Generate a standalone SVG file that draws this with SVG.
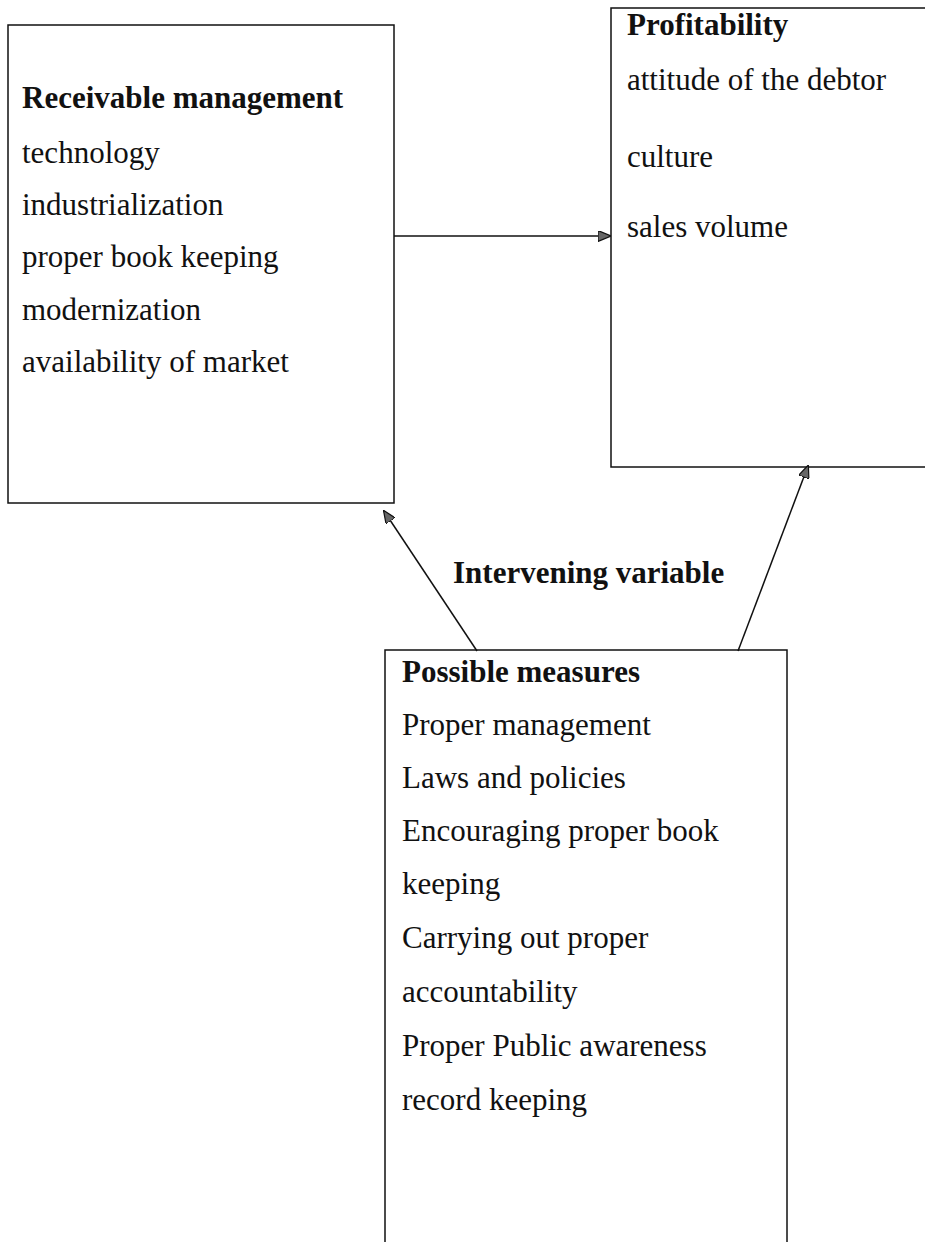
<svg xmlns="http://www.w3.org/2000/svg" width="925" height="1242" viewBox="0 0 925 1242">
<style>
.box{fill:#fff;stroke:#111;stroke-width:1.5}
.t{font-family:"Liberation Serif","Times New Roman",serif;font-size:31px;fill:#111}
.b{font-weight:bold}
.c{stroke:#111;stroke-width:1.5;fill:none}
</style>
<defs>
<marker id="ah" markerWidth="13" markerHeight="11" refX="12" refY="5.5" orient="auto" markerUnits="userSpaceOnUse">
<path d="M0,0 L13,5.5 L0,11 Z" fill="#666" stroke="#111" stroke-width="1.2"/>
</marker>
</defs>
<rect width="925" height="1242" fill="#fff"/>
<g id="receivable">
<rect class="box" x="8" y="25" width="386" height="478"/>
<text class="t b" x="22" y="108">Receivable management</text>
<text class="t" x="22" y="163">technology</text>
<text class="t" x="22" y="215">industrialization</text>
<text class="t" x="22" y="267">proper book keeping</text>
<text class="t" x="22" y="320">modernization</text>
<text class="t" x="22" y="372">availability of market</text>
</g>
<g id="profitability">
<rect class="box" x="611" y="8" width="330" height="459"/>
<text class="t b" x="627" y="35">Profitability</text>
<text class="t" x="627" y="90">attitude of the debtor</text>
<text class="t" x="627" y="167">culture</text>
<text class="t" x="627" y="237"> sales volume</text>
</g>
<g id="measures">
<rect class="box" x="385" y="650" width="402" height="600"/>
<text class="t b" x="402" y="682">Possible measures</text>
<text class="t" x="402" y="735">Proper management</text>
<text class="t" x="402" y="788">Laws and policies</text>
<text class="t" x="402" y="841">Encouraging proper book</text>
<text class="t" x="402" y="894">keeping</text>
<text class="t" x="402" y="948">Carrying out proper</text>
<text class="t" x="402" y="1002">accountability</text>
<text class="t" x="402" y="1056">Proper Public awareness</text>
<text class="t" x="402" y="1110">record keeping</text>
</g>
<g id="label">
<text class="t b" x="453" y="583">Intervening variable</text>
</g>
<g id="connectors">
<line class="c" x1="394" y1="236" x2="610" y2="236" marker-end="url(#ah)"/>
<line class="c" x1="477" y1="651" x2="384" y2="511" marker-end="url(#ah)"/>
<line class="c" x1="738" y1="651" x2="808" y2="466" marker-end="url(#ah)"/>
</g>
</svg>
